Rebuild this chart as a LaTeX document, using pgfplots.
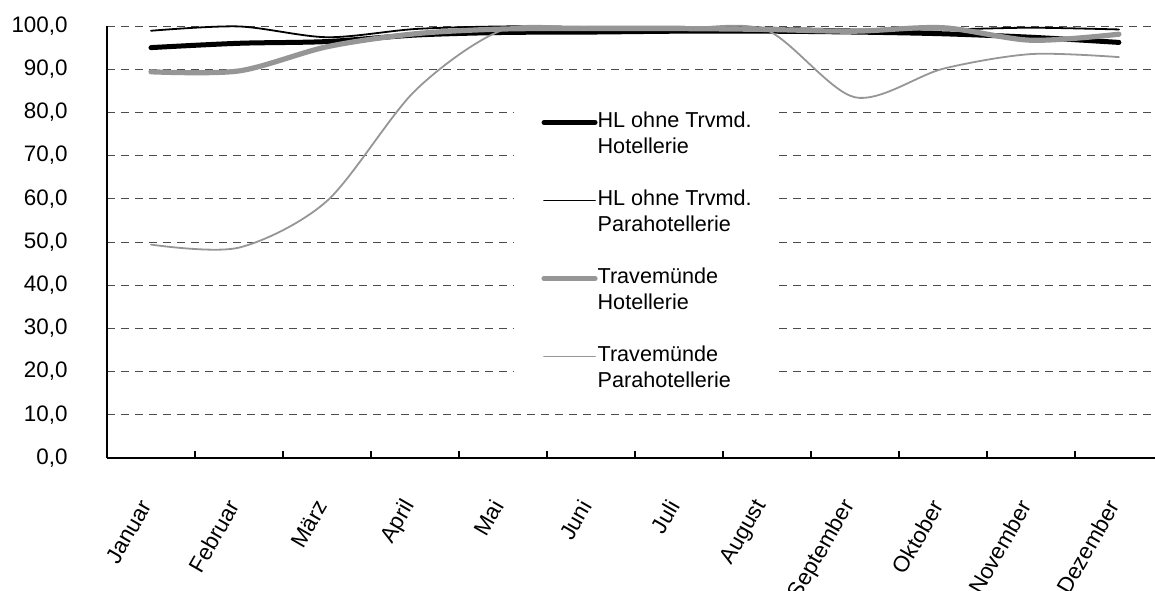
\documentclass[border=0pt]{standalone}
\usepackage{pgfplots}
\pgfplotsset{compat=1.18}
\usepackage{fontspec}
\setmainfont{Liberation Sans}
\definecolor{lgray}{RGB}{150,150,150}
\begin{document}
\begin{tikzpicture}[font=\fontsize{10.8}{13}\selectfont]
\useasboundingbox (-53.5pt,-66pt) rectangle (524pt,229pt);
\begin{axis}[
 at={(0,0)}, anchor=south west,
 scale only axis, width=524pt, height=216pt,
 xmin=-0.5, xmax=11.41, ymin=0, ymax=100,
 clip=false,
 axis x line=bottom, axis y line=left, axis line style={-},
 x axis line style={line width=1pt}, y axis line style={line width=0.6pt},
 xtick={0,...,11},
 xticklabels={Januar,Februar,März,April,Mai,Juni,Juli,August,September,Oktober,November,Dezember},
 minor xtick={-0.5,0.5,...,10.5},
 major tick length=0pt, minor tick length=3.5pt, tick align=inside,
 minor tick style={line width=0.8pt, black},
 tick label style={font=\fontsize{11.2}{13}\selectfont},
 xticklabel style={inner sep=0pt, xshift=-2.5pt, yshift=-22pt, rotate=60, anchor=east},
 ytick={0,10,...,100},
 yticklabel style={inner sep=0pt, anchor=east, xshift=-19.5pt,
   /pgf/number format/.cd, fixed, fixed zerofill, precision=1, use comma, assume math mode=true},
 ymajorgrids, major grid style={dash pattern=on 4pt off 3pt, black!70, line width=0.5pt},
 legend cell align=left,
 legend style={at={(0.3884,0.8356)}, anchor=north west, draw=none, fill=white,
   inner xsep=13.5pt, inner ysep=6pt, row sep=0pt, column sep=0pt,
   nodes={inner xsep=0pt, inner ysep=0pt, text height=9pt, text depth=4pt}},
 legend image code/.code={\draw[#1] (0pt,0pt) -- (25.5pt,0pt);},
]
\addplot[black, line width=2.5pt, smooth, line cap=round] coordinates {
 (0,95.0) (1,96.0) (2,96.4) (3,97.9) (4,98.5) (5,98.6) (6,98.8) (7,98.8) (8,98.6) (9,98.2) (10,97.4) (11,96.2)};
\addlegendentry{HL ohne Trvmd.}
\addlegendimage{opacity=0}\addlegendentry{Hotellerie}
\addlegendimage{opacity=0}\addlegendentry{}
\addplot[black, line width=0.9pt, smooth, line cap=round] coordinates {
 (0,98.9) (1,99.9) (2,97.4) (3,99.3) (4,99.9) (5,99.8) (6,99.8) (7,99.6) (8,99.2) (9,99.2) (10,99.6) (11,99.2)};
\addlegendentry{HL ohne Trvmd.}
\addlegendimage{opacity=0}\addlegendentry{Parahotellerie}
\addlegendimage{opacity=0}\addlegendentry{}
\addplot[lgray, line width=2.6pt, smooth, line cap=round] coordinates {
 (0,89.4) (1,89.6) (2,95.2) (3,98.2) (4,99.3) (5,99.4) (6,99.4) (7,99.2) (8,98.8) (9,99.6) (10,96.7) (11,98.1)};
\addlegendentry{Travemünde}
\addlegendimage{opacity=0}\addlegendentry{Hotellerie}
\addlegendimage{opacity=0}\addlegendentry{}
\addplot[lgray, line width=0.9pt, smooth, line cap=round] coordinates {
 (0,49.4) (1,48.7) (2,59.5) (3,85.0) (4,99.1) (5,99.4) (6,99.4) (7,99.0) (8,83.5) (9,90.1) (10,93.5) (11,92.8)};
\addlegendentry{Travemünde}
\addlegendimage{opacity=0}\addlegendentry{Parahotellerie}
\end{axis}
\end{tikzpicture}
\end{document}
